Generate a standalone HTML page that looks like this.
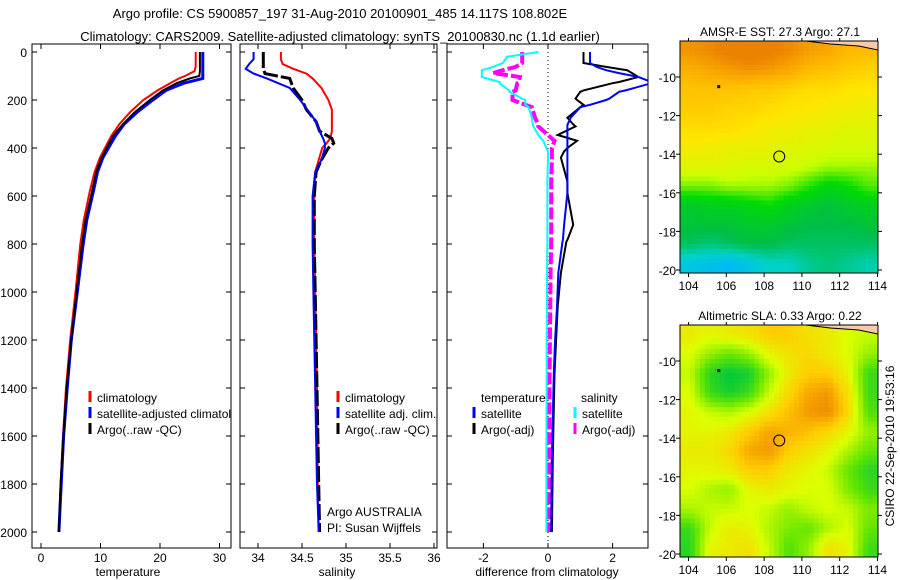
<!DOCTYPE html>
<html><head><meta charset="utf-8">
<style>
html,body{margin:0;padding:0;background:#fff;}
svg{display:block;font-family:"Liberation Sans",sans-serif;}
</style></head>
<body>
<svg id="chart" width="900" height="580" viewBox="0 0 900 580" xmlns="http://www.w3.org/2000/svg">
<defs>
<clipPath id="c1"><rect x="32" y="44" width="199" height="504"/></clipPath>
<clipPath id="c2"><rect x="240" y="44" width="197" height="504"/></clipPath>
<clipPath id="c3"><rect x="447" y="44" width="201" height="504"/></clipPath>
</defs>
<text x="340" y="18" font-size="13" text-anchor="middle">Argo profile: CS 5900857_197 31-Aug-2010 20100901_485 14.117S 108.802E</text>
<text x="340" y="41" font-size="13" text-anchor="middle">Climatology: CARS2009. Satellite-adjusted climatology: synTS_20100830.nc (1.1d earlier)</text>
<g id="g"></g>
</svg>
<script>
// ---- data ----
const tDepth=[0,60,80,100,110,130,160,200,250,300,350,440,500,580,700,800,1000,1200,1400,1600,1800,2000];
const tClim=[26.0,26.0,25.8,24.2,23.2,21.7,19.6,17.2,15.0,13.2,11.8,9.9,9.0,8.2,7.2,6.6,5.8,4.9,4.2,3.7,3.3,3.0];
const tSat=[27.2,27.2,27.2,27.2,27.2,24.0,21.0,18.8,16.2,14.0,12.5,10.4,9.5,8.8,7.7,7.1,6.1,5.1,4.4,3.8,3.4,3.0];
const tArgo=[26.7,26.7,26.7,26.6,25.0,22.8,20.5,18.3,15.8,13.8,12.1,10.2,9.3,8.6,7.5,6.9,6.0,5.1,4.3,3.8,3.3,3.0];
const sDepth=[0,30,50,70,90,110,150,200,240,290,330,360,380,400,450,500,600,800,1000,1400,1800,2000];
const sClim=[34.26,34.26,34.28,34.4,34.55,34.62,34.72,34.8,34.84,34.84,34.84,34.82,34.78,34.73,34.69,34.65,34.64,34.64,34.65,34.67,34.68,34.69];
const sSat=[33.95,33.95,33.9,33.86,33.95,34.1,34.36,34.48,34.56,34.66,34.7,34.74,34.76,34.76,34.72,34.65,34.62,34.62,34.63,34.65,34.67,34.69];
const sArgo=[34.06,34.06,34.06,34.06,34.08,34.36,34.4,34.5,34.55,34.66,34.7,34.84,34.86,34.8,34.72,34.66,34.64,34.64,34.65,34.67,34.69,34.70];
const dDepth=[0,20,46,62,76,88,104,125,130,160,166,194,200,220,230,274,304,310,346,370,400,414,440,540,587,720,783,790,920,1060,1200,1340,1690,2000];
const dTSat=[1.3,1.3,1.3,1.5,1.8,2.2,2.8,3.2,3.2,2.4,2.2,1.9,1.8,1.3,1.0,0.7,0.6,0.6,0.6,0.6,0.6,0.6,0.6,0.6,0.6,0.5,0.46,0.45,0.32,0.28,0.22,0.18,0.12,0.1];
const dTArgo=[1.1,1.1,1.1,1.8,2.45,2.6,2.8,2.2,2.0,1.1,1.0,0.85,0.9,1.1,1.0,0.6,0.8,0.85,0.3,0.9,0.6,0.5,0.4,0.6,0.6,0.78,0.6,0.57,0.4,0.3,0.25,0.2,0.15,0.12];
const dSSat=[-0.3,-1.27,-1.4,-1.7,-2.05,-2.05,-2.05,-1.5,-1.5,-1.2,-1.2,-0.8,-0.7,-0.7,-0.6,-0.5,-0.47,-0.45,-0.3,-0.15,-0.05,0,0,-0.02,-0.02,-0.02,-0.02,-0.02,-0.03,-0.03,-0.04,-0.04,-0.05,-0.05];
const dSArgo=[-0.8,-0.8,-0.8,-1.0,-1.4,-1.7,-0.87,-0.9,-0.95,-1.0,-1.1,-1.1,-1.1,-0.7,-0.5,-0.4,-0.3,-0.3,0.0,0.2,0.12,0.12,0.12,0.1,0.1,0.1,0.1,0.1,0.08,0.07,0.06,0.05,0.04,0.03];
const lonTicks=[104,106,108,110,112,114];
const latTicks=[-10,-12,-14,-16,-18,-20];
const sstGrid=[
[28.4,28.5,28.7,28.8,28.7,28.5,28.3,28.2,28.0,28.0],
[28.1,28.2,28.3,28.4,28.3,28.2,28.0,27.9,27.8,27.7],
[27.9,27.9,27.9,27.8,27.8,27.7,27.6,27.6,27.5,27.5],
[27.8,27.8,27.7,27.7,27.6,27.5,27.5,27.4,27.4,27.3],
[27.6,27.6,27.6,27.5,27.4,27.4,27.3,27.3,27.2,27.2],
[27.4,27.4,27.3,27.3,27.3,27.2,27.2,27.1,27.1,27.1],
[27.2,27.2,27.2,27.1,27.1,27.1,27.0,26.9,26.9,26.9],
[26.8,26.8,26.9,26.9,26.9,26.8,26.6,26.4,26.5,26.7],
[26.2,26.3,26.3,26.4,26.5,26.3,26.2,26.1,26.2,26.3],
[26.1,26.1,26.1,26.2,26.2,26.1,26.0,26.0,26.0,26.1],
[25.9,25.8,25.9,26.0,26.0,25.9,25.9,25.9,25.9,25.9],
[25.3,25.2,25.1,25.3,25.5,25.5,25.7,25.8,25.7,25.6]];
const slaGrid=[
[.27,.26,.27,.28,.30,.30,.28,.27,.25,.24],
[.25,.22,.20,.22,.26,.28,.29,.27,.25,.22],
[.24,.17,.15,.16,.22,.27,.30,.30,.26,.18],
[.25,.18,.16,.18,.24,.29,.33,.34,.28,.18],
[.26,.24,.23,.25,.28,.31,.34,.35,.29,.19],
[.26,.26,.27,.30,.33,.32,.31,.29,.26,.22],
[.27,.27,.29,.33,.34,.30,.28,.26,.23,.20],
[.26,.26,.27,.30,.30,.27,.26,.24,.20,.17],
[.25,.23,.22,.26,.27,.26,.25,.25,.21,.18],
[.23,.24,.24,.25,.24,.22,.24,.25,.24,.21],
[.18,.24,.27,.26,.23,.21,.20,.23,.25,.20],
[.17,.26,.27,.28,.24,.19,.22,.28,.26,.18]];

// ---- helpers ----
const NS="http://www.w3.org/2000/svg";
const G=document.getElementById('g');
function mk(tag,attrs,parent){const e=document.createElementNS(NS,tag);for(const k in attrs)e.setAttribute(k,attrs[k]);(parent||G).appendChild(e);return e;}
function txt(x,y,s,size,anchor,parent){const t=mk('text',{x:x,y:y,'font-size':size||12,'text-anchor':anchor||'start'},parent);t.textContent=s;return t;}
const yD=d=>52+d*0.24;
const xT=v=>41+v*5.95;
const xS=v=>258+(v-34)*88;
const xDf=v=>548+v*32.3;

function frame(x0,x1,name){
  const r=mk('rect',{x:x0,y:44,width:x1-x0,height:504,fill:'none',stroke:'#000','stroke-width':1});
  
  
  [0,200,400,600,800,1000,1200,1400,1600,1800,2000].forEach(d=>{
    mk('line',{x1:x0,x2:x0+5,y1:yD(d),y2:yD(d),stroke:'#000'});
    mk('line',{x1:x1,x2:x1-5,y1:yD(d),y2:yD(d),stroke:'#000'});
  });
}
function xticks(vals,fx,labels){
  vals.forEach((v,i)=>{
    const x=fx(v);
    mk('line',{x1:x,x2:x,y1:548,y2:543,stroke:'#000'});
    mk('line',{x1:x,x2:x,y1:44,y2:49,stroke:'#000'});
    const t=txt(x,562,labels[i],12,'middle');
    
    
  });
}
function line(depths,vals,fx,color,w,clip,name,dash){
  const p=depths.map((d,i)=>(i?'L':'M')+fx(vals[i]).toFixed(1)+','+yD(d).toFixed(1)).join('');
  const a={d:p,fill:'none',stroke:color,'stroke-width':w,'clip-path':'url(#'+clip+')'};
  if(dash)a['stroke-dasharray']=dash;
  const e=mk('path',a);
  
  
}
function legend(x,y,color,label,w){
  const b=mk('line',{x1:x,x2:x,y1:y-11,y2:y,stroke:color,'stroke-width':w||3});
  
  
  const t=txt(x+7,y,label,12);
  
  
  return t;
}

// depth labels
[0,200,400,600,800,1000,1200,1400,1600,1800,2000].forEach(d=>{
  const t=txt(27,yD(d)+5,String(d),12,'end');
  
  
});

// panel 1
frame(32,231,'temperature-panel');
xticks([0,10,20,30],xT,['0','10','20','30']);
line(tDepth,tClim,xT,'#f00',2,'c1','temperature-climatology-line');
line(tDepth,tSat,xT,'#00f',3,'c1','temperature-satellite-line');
line(tDepth,tArgo,xT,'#000',2,'c1','temperature-argo-line');
legend(90,402,'#f00','climatology');
legend(90,418,'#00f','satellite-adjusted climatology');
legend(90,434,'#000','Argo(..raw -QC)');
[...G.querySelectorAll('text')].slice(-3).forEach(t=>t.setAttribute('clip-path','url(#c1)'));
let a=txt(128,576,'temperature',12,'middle');

// panel 2
frame(240,437,'salinity-panel');
xticks([34,34.5,35,35.5,36],xS,['34','34.5','35','35.5','36']);
line(sDepth,sClim,xS,'#f00',2,'c2','salinity-climatology-line');
line(sDepth,sArgo,xS,'#000',3,'c2','salinity-argo-line','16,3');
line(sDepth,sSat,xS,'#00f',2,'c2','salinity-satellite-line');
legend(338,402,'#f00','climatology');
legend(338,418,'#00f','satellite adj. clim.');
legend(338,434,'#000','Argo(..raw -QC)');
a=txt(327,516,'Argo AUSTRALIA',12);
a=txt(327,532,'PI: Susan Wijffels',12);
a=txt(337,576,'salinity',12,'middle');

// panel 3
frame(447,648,'difference-panel');
xticks([-2,0,2],xDf,['-2','0','2']);
a=mk('line',{x1:xDf(0),x2:xDf(0),y1:44,y2:548,stroke:'#000','stroke-dasharray':'1,3'});

line(dDepth,dSArgo,xDf,'#f0f',4,'c3','salinity-argo-diff-line','12,3');
line(dDepth,dSSat,xDf,'#0ff',2,'c3','salinity-satellite-diff-line');
line(dDepth,dTArgo,xDf,'#000',2,'c3','temperature-argo-diff-line');
line(dDepth,dTSat,xDf,'#00f',2,'c3','temperature-satellite-diff-line');
a=txt(481,402,'temperature',12);
a=txt(581,402,'salinity',12);
legend(474,418,'#00f','satellite');
legend(474,434,'#000','Argo(-adj)');
legend(575,418,'#0ff','satellite');
legend(575,434,'#f0f','Argo(-adj)');
a=txt(547,576,'difference from climatology',12,'middle');

// ---- maps ----
function lerpColor(stops,v){
  const rgb=c=>'rgb('+c.join(',')+')';
  if(v<=stops[0][0])return rgb(stops[0][1]);
  for(let i=1;i<stops.length;i++){
    if(v<=stops[i][0]){const [a0,c0]=stops[i-1],[a1,c1]=stops[i];const f=(v-a0)/(a1-a0);
      return rgb(c0.map((c,k)=>Math.round(c+(c1[k]-c)*f)));}
  }
  return rgb(stops[stops.length-1][1]);
}
function sample(grid,r,c){
  const R=grid.length,C=grid[0].length;
  r=Math.max(0,Math.min(R-1,r));c=Math.max(0,Math.min(C-1,c));
  const r0=Math.floor(r),c0=Math.floor(c),r1=Math.min(R-1,r0+1),c1=Math.min(C-1,c0+1);
  const fr=r-r0,fc=c-c0;
  return (grid[r0][c0]*(1-fc)+grid[r0][c1]*fc)*(1-fr)+(grid[r1][c0]*(1-fc)+grid[r1][c1]*fc)*fr;
}
const sstStops=[[25.0,[0,180,255]],[25.5,[0,210,200]],[26.0,[0,190,70]],[26.5,[0,220,0]],[27.0,[200,255,0]],[27.5,[255,230,0]],[28.0,[255,185,0]],[28.6,[235,130,0]]];
const slaStops=[[0.15,[0,200,60]],[0.2,[100,230,0]],[0.25,[220,255,0]],[0.3,[255,205,0]],[0.35,[240,140,0]]];
function drawMap(top,grid,stops,title,name){
  const x0=680,x1=878,bottom=top+232;
  const lx=lon=>688.5+(lon-104)*18.9;
  const ly=lat=>top+36+(-10-lat)*19.3;
  const g=mk('g',{});
  
  
  const rows=grid.length,cols=grid[0].length,sub=4;
  const cw=(x1-x0)/(cols*sub),ch=(bottom-top)/(rows*sub);
  for(let r=0;r<rows*sub;r++)for(let c=0;c<cols*sub;c++){
    const v=sample(grid,(r+0.5)/sub-0.5,(c+0.5)/sub-0.5);
    const cell=mk('rect',{x:(x0+c*cw).toFixed(2),y:(top+r*ch).toFixed(2),width:(cw+0.5).toFixed(2),height:(ch+0.5).toFixed(2),fill:lerpColor(stops,v)},g);
    
    
  }
  const land=mk('path',{d:`M${lx(110.2)},${top} L${x1},${top} L${x1},${top+9} L${lx(113)},${top+5} L${lx(111.5)},${top+3} Z`,fill:'#fbc8a8',stroke:'#000','stroke-width':1},g);
  
  
  const c=mk('circle',{cx:lx(108.8),cy:ly(-14.12),r:5.5,fill:'none',stroke:'#000','stroke-width':1},g);
  
  
  mk('rect',{x:lx(105.6)-1.5,y:ly(-10.5)-1.5,width:3,height:3,fill:'#000'},g);
  mk('rect',{x:x0,y:top,width:x1-x0,height:bottom-top,fill:'none',stroke:'#000'},g);
  lonTicks.forEach(lon=>{const x=lx(lon);mk('line',{x1:x,x2:x,y1:bottom,y2:bottom+4,stroke:'#000'},g);mk('line',{x1:x,x2:x,y1:top,y2:top-3,stroke:'#000'},g);
    const t=txt(x,bottom+17,String(lon),12,'middle',g);});
  latTicks.forEach(lat=>{const y=ly(lat);mk('line',{x1:x0,x2:x0-4,y1:y,y2:y,stroke:'#000'},g);mk('line',{x1:x1,x2:x1+4,y1:y,y2:y,stroke:'#000'},g);
    const t=txt(676,y+5,String(lat),12,'end',g);});
  const tt=txt(780,top-5,title,12,'middle',g);
  
  
}
drawMap(41,sstGrid,sstStops,'AMSR-E SST: 27.3 Argo: 27.1','sst-map');
drawMap(325,slaGrid,slaStops,'Altimetric SLA: 0.33 Argo: 0.22','sla-map');
a=txt(0,0,'CSIRO 22-Sep-2010 19:53:16',12,'middle');
a.setAttribute('transform','translate(894,446) rotate(-90)');


</script>
</body></html>
